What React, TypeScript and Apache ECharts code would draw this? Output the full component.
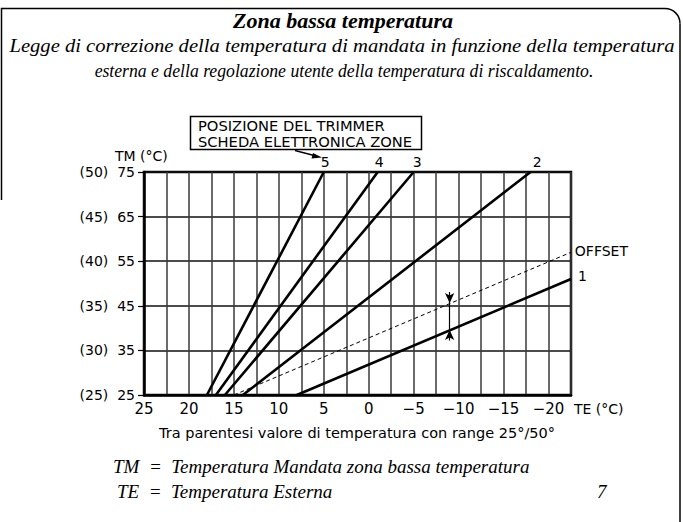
import React, { useEffect, useRef } from "react";
import * as echarts from "echarts";

// TE (°C) axis: tick values and labels
const teMin = -22.5;
const teMax = 25;
const teStep = 2.5;
// TM (°C) axis ticks and the matching low-range values in parentheses
const tmTicks = [25, 35, 45, 55, 65, 75];
const tmLowRange = [25, 30, 35, 40, 45, 50];

// Curves: [TE start, TE end] and [TM start, TM end]
const curveNames = ["1", "2", "3", "4", "5"];
const curveTE = [
  [8, -22.5],
  [14, -18],
  [16, -5],
  [17, -1],
  [18, 5],
];
const curveTM = [
  [25, 51],
  [25, 75],
  [25, 75],
  [25, 75],
  [25, 75],
];
const offsetTE = [15, -22.5];
const offsetTM = [25, 57];

// Offset dimension arrows at TE = -9
const arrowTE = -9;
const arrowTopTM = [48.1, 45.6];
const arrowMidTM = [45.6, 39.6];
const arrowBottomTM = [37.2, 39.6];

const SANS = "DejaVu Sans";
const SERIF = "Liberation Serif";

export default function App() {
  const ref = useRef<HTMLDivElement>(null);
  useEffect(() => {
    if (!ref.current) return;
    const chart = echarts.init(ref.current, null, { renderer: "svg" });
    const labelOffsets: Record<string, number[]> = {
      "1": [24, -3],
      "2": [19, -10],
      "3": [16, -10],
      "4": [14, -10],
      "5": [14, -10],
    };
    const series: any[] = curveNames.map((name, i) => ({
      name,
      type: "line",
      data: [
        [curveTE[i][0], curveTM[i][0]],
        [curveTE[i][1], curveTM[i][1]],
      ],
      showSymbol: false,
      symbol: "none",
      lineStyle: { color: "#000", width: 2.6 },
      endLabel: {
        show: true,
        formatter: name,
        color: "#000",
        fontFamily: SANS,
        fontSize: 14,
        offset: labelOffsets[name],
      },
      z: 5,
    }));
    series.push({
      name: "OFFSET",
      type: "line",
      data: [
        [offsetTE[0], offsetTM[0]],
        [offsetTE[1], offsetTM[1]],
      ],
      showSymbol: false,
      symbol: "none",
      lineStyle: { color: "#000", width: 1, type: [4, 3] },
      endLabel: {
        show: true,
        formatter: "OFFSET",
        color: "#000",
        fontFamily: SANS,
        fontSize: 14,
        offset: [65, -1],
      },
      z: 5,
      markLine: {
        silent: true,
        animation: false,
        label: { show: false },
        lineStyle: { color: "#000", width: 1.2, type: "solid" },
        symbolSize: [7, 10],
        data: [
          [
            { coord: [arrowTE, arrowTopTM[0]], symbol: "none" },
            { coord: [arrowTE, arrowTopTM[1]], symbol: "arrow" },
          ],
          [
            { coord: [arrowTE, arrowMidTM[0]], symbol: "none" },
            { coord: [arrowTE, arrowMidTM[1]], symbol: "none" },
          ],
          [
            { coord: [arrowTE, arrowBottomTM[0]], symbol: "none" },
            { coord: [arrowTE, arrowBottomTM[1]], symbol: "arrow" },
          ],
        ],
      },
    });

    const option: any = {
      animation: false,
      backgroundColor: "#fff",
      grid: {
        left: 144,
        right: 112,
        top: 172,
        bottom: 127,
        show: true,
        borderColor: "#000",
        borderWidth: 2.5,
        containLabel: false,
      },
      xAxis: {
        type: "value",
        inverse: true,
        min: teMin,
        max: teMax,
        interval: teStep,
        axisLine: { show: true, onZero: false, lineStyle: { color: "#000", width: 2.5 } },
        axisTick: { show: false },
        axisLabel: {
          color: "#000",
          fontFamily: SANS,
          fontSize: 15,
          margin: 6,
          formatter: (v: number) => (v % 5 === 0 ? String(v).replace("-", "\u2212") : ""),
        },
        splitLine: { show: true, lineStyle: { color: "#3a3a3a", width: 1.5 } },
      },
      yAxis: {
        type: "value",
        min: tmTicks[0],
        max: tmTicks[tmTicks.length - 1],
        interval: 10,
        axisLine: { show: true, onZero: false, lineStyle: { color: "#000", width: 2.5 } },
        axisTick: { show: true, length: 6, lineStyle: { color: "#000", width: 1.2 } },
        axisLabel: {
          color: "#000",
          fontFamily: SANS,
          fontSize: 14,
          margin: 9,
          formatter: (v: number) => {
            const i = tmTicks.indexOf(v);
            return i >= 0 ? `(${tmLowRange[i]})  ${v}` : "";
          },
        },
        splitLine: { show: true, lineStyle: { color: "#111", width: 1.5 } },
      },
      series,
      graphic: [
        // outer frame
        {
          type: "polyline",
          shape: { points: [[1.5, 200], [1.5, 8.5], [665, 8.5]] },
          style: { stroke: "#000", lineWidth: 1.5, fill: "none" },
        },
        {
          type: "arc",
          shape: { cx: 665, cy: 23.5, r: 15, startAngle: -Math.PI / 2, endAngle: 0 },
          style: { stroke: "#000", lineWidth: 1.5, fill: "none" },
        },
        {
          type: "line",
          shape: { x1: 680, y1: 23.5, x2: 680, y2: 522 },
          style: { stroke: "#000", lineWidth: 1.5 },
        },
        // Title
        {
          type: "text",
          x: 343,
          y: 20,
          style: {
            text: "Zona bassa temperatura",
            fontFamily: SERIF,
            fontStyle: "italic",
            fontWeight: "bold",
            fontSize: 22,
            fill: "#000",
            textAlign: "center",
            textVerticalAlign: "middle",
          },
        },
        {
          type: "text",
          x: 342,
          y: 45,
          scaleX: 1.057,
          style: {
            text: "Legge di correzione della temperatura di mandata in funzione della temperatura",
            fontFamily: SERIF,
            fontStyle: "italic",
            fontSize: 19.5,
            fill: "#000",
            textAlign: "center",
            textVerticalAlign: "middle",
          },
        },
        {
          type: "text",
          x: 344,
          y: 70,
          scaleX: 0.907,
          style: {
            text: "esterna e della regolazione utente della temperatura di riscaldamento.",
            fontFamily: SERIF,
            fontStyle: "italic",
            fontSize: 19.5,
            fill: "#000",
            textAlign: "center",
            textVerticalAlign: "middle",
          },
        },
        // trimmer box
        {
          type: "rect",
          shape: { x: 190.5, y: 116.5, width: 231, height: 33 },
          style: { stroke: "#000", lineWidth: 1.5, fill: "#fff" },
        },
        {
          type: "text",
          x: 198,
          y: 125,
          style: {
            text: "POSIZIONE DEL TRIMMER",
            fontFamily: SANS,
            fontSize: 14.7,
            fill: "#000",
            textVerticalAlign: "middle",
          },
        },
        {
          type: "text",
          x: 198,
          y: 141,
          style: {
            text: "SCHEDA ELETTRONICA ZONE",
            fontFamily: SANS,
            fontSize: 14.7,
            fill: "#000",
            textVerticalAlign: "middle",
          },
        },
        {
          type: "line",
          shape: { x1: 295, y1: 150.5, x2: 316, y2: 156 },
          style: { stroke: "#000", lineWidth: 1.3 },
        },
        {
          type: "polygon",
          shape: { points: [[322, 157.5], [313, 153], [311.5, 158.5]] },
          style: { fill: "#000" },
        },
        // axis names
        {
          type: "text",
          x: 115,
          y: 156,
          style: { text: "TM (°C)", fontFamily: SANS, fontSize: 14, fill: "#000", textVerticalAlign: "middle" },
        },
        {
          type: "text",
          x: 574,
          y: 409,
          style: { text: "TE (°C)", fontFamily: SANS, fontSize: 14, fill: "#000", textVerticalAlign: "middle" },
        },
        {
          type: "text",
          x: 357,
          y: 433,
          style: {
            text: "Tra parentesi valore di temperatura con range 25°/50°",
            fontFamily: SANS,
            fontSize: 14.5,
            fill: "#000",
            textAlign: "center",
            textVerticalAlign: "middle",
          },
        },
        // legend of abbreviations
        {
          type: "text",
          x: 113,
          y: 466,
          style: {
            text: "TM  =  Temperatura Mandata zona bassa temperatura",
            fontFamily: SERIF,
            fontStyle: "italic",
            fontSize: 19,
            fill: "#000",
            textVerticalAlign: "middle",
          },
        },
        {
          type: "text",
          x: 117,
          y: 491,
          style: {
            text: "TE  =  Temperatura Esterna",
            fontFamily: SERIF,
            fontStyle: "italic",
            fontSize: 19,
            fill: "#000",
            textVerticalAlign: "middle",
          },
        },
        {
          type: "text",
          x: 597,
          y: 491,
          style: {
            text: "7",
            fontFamily: SERIF,
            fontStyle: "italic",
            fontSize: 19,
            fill: "#000",
            textVerticalAlign: "middle",
          },
        },
      ],
    };
    chart.setOption(option);
    return () => chart.dispose();
  }, []);
  return (
    <div
      ref={ref}
      style={{ position: "fixed", left: 0, top: 0, width: 683, height: 522, background: "#fff" }}
    />
  );
}
